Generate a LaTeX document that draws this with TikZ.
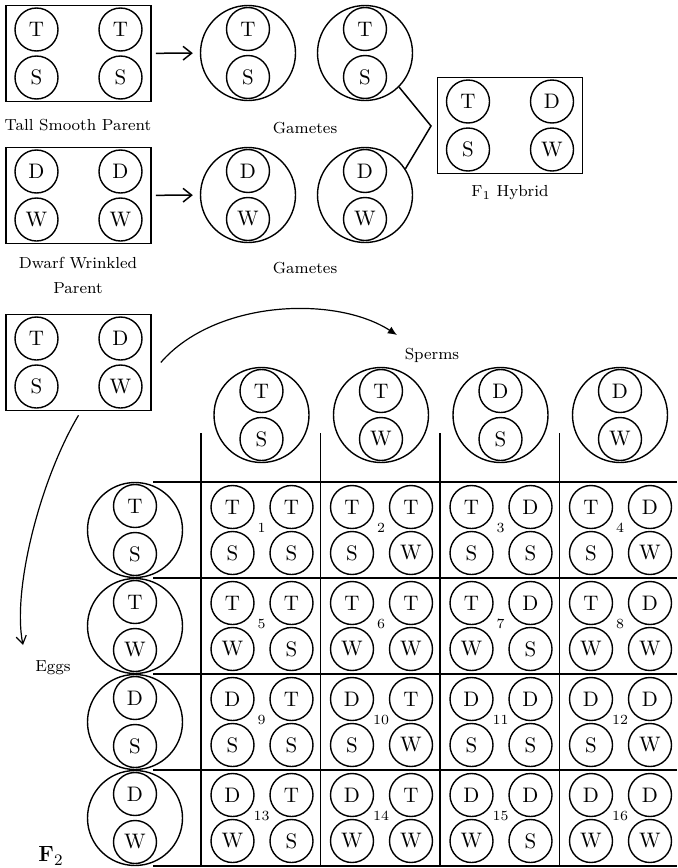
\documentclass[tikz,border=0pt]{standalone}
\usepackage{tikz}
\usetikzlibrary{arrows.meta,calc}
\tikzset{
  gene/.style={circle,draw=black,line width=0.7pt,minimum size=21.5pt,inner sep=0pt,font=\fontsize{10.5}{12}\selectfont}, % one factor
  gam/.style={circle,draw=black,line width=0.7pt,minimum size=47.5pt,inner sep=0pt},  % gamete
  pbox/.style={draw=black,line width=0.8pt,minimum width=72.5pt,minimum height=48pt,inner sep=0pt},
  lbl/.style={font=\footnotesize,inner sep=0pt},
  num/.style={font=\scriptsize,inner sep=0pt},
  pline/.style={black,line width=0.8pt},
  pass/.style={-{Straight Barb[length=1.5mm,width=2.4mm]},line width=0.75pt},
  sperm/.style={-{Latex[length=1.6mm,width=1.4mm]},line width=0.6pt},
  egg/.style={-{Straight Barb[length=1.4mm,width=1.8mm]},line width=0.6pt},
}
\newcommand{\gamete}[5]{% name, x, y, upper, lower
  \node[gam] (#1) at ({#2},{#3}) {};
  \node[gene] (#1u) at ({#2},{#3-24}) {#4};
  \node[gene] (#1l) at ({#2},{#3+24}) {#5};
}
\newcommand{\pairbox}[7]{% name, x, y, four factors
  \node[pbox] (#1) at ({#2},{#3}) {};
  \node[gene] (#1a) at ({#2-42},{#3-24}) {#4};
  \node[gene] (#1b) at ({#2+42},{#3-24}) {#5};
  \node[gene] (#1c) at ({#2-42},{#3+24}) {#6};
  \node[gene] (#1d) at ({#2+42},{#3+24}) {#7};
}
\newcommand{\cellgenes}[8]{% name, x, y, four factors, number
  \node[gene] (#1a) at ({#2-29},{#3-23}) {#4};
  \node[gene] (#1b) at ({#2+30},{#3-23}) {#5};
  \node[gene] (#1c) at ({#2-29},{#3+23}) {#6};
  \node[gene] (#1d) at ({#2+30},{#3+23}) {#7};
  \node[num] (#1n) at ({#2},{#3-2}) {#8};
}

\begin{document}
\begin{tikzpicture}[x=0.5pt,y=-0.5pt]
  \useasboundingbox (0,0) rectangle (677,868);
  % parents and gametes
  \pairbox{tsp}{78.5}{53.5}{T}{T}{S}{S}
  \node[lbl] (tspl) at (78,125) {Tall Smooth Parent};
  \gamete{g1}{248}{53}{T}{S}
  \gamete{g2}{365}{53}{T}{S}
  \node[lbl] (gl1) at (305,128) {Gametes};
  \pairbox{dwp}{78.5}{195.5}{D}{D}{W}{W}
  \node[lbl,align=center,font=\fontsize{8}{12.5}\selectfont] (dwpl) at (78,275) {Dwarf Wrinkled\\Parent};
  \gamete{g3}{248}{195}{D}{W}
  \gamete{g4}{365}{195}{D}{W}
  \node[lbl] (gl2) at (305,268) {Gametes};
  \draw[pass,shorten <=2pt,shorten >=3.5pt] (tsp) -- (g1);
  \draw[pass,shorten <=2pt,shorten >=3.5pt] (dwp) -- (g3);
  % F1
  \pairbox{f1}{510}{125.5}{T}{D}{S}{W}
  \node[lbl] (f1l) at (510,193) {F$_1$ Hybrid};
  \coordinate (join) at (431,126);
  \draw[line width=0.75pt] (g2.-45) -- (join) -- (g4.33);
  % F2
  \pairbox{hy}{78.5}{362.5}{T}{D}{S}{W}
  \coordinate (sptip) at (397,335);
  \coordinate (eggtip) at (23,645);
  \draw[sperm] ([xshift=4.5pt]hy.east) .. controls (215,300) and (335,295) .. (sptip);
  \draw[egg] ([yshift=-2pt]hy.south) .. controls (40,480) and (12,590) .. (eggtip);
  \node[lbl] (spl) at (432,355) {Sperms};
  \node[lbl] (eggl) at (53,668) {Eggs};
  \node[inner sep=0pt,font=\fontsize{11}{13}\selectfont] (f2l) at (51,856) {\textbf{F}$_2$};
  \foreach \su/\sl [count=\cc] in {T/S,T/W,D/S,D/W} {
    \pgfmathsetmacro\px{261.5+119.5*(\cc-1)}
    \gamete{s\cc}{\px}{415}{\su}{\sl}
  }
  \foreach \eu/\el [count=\rr] in {T/S,T/W,D/S,D/W} {
    \pgfmathsetmacro\py{530+96*(\rr-1)}
    \gamete{e\rr}{135}{\py}{\eu}{\el}
  }
  \foreach \cc in {0,...,3}
    \draw[pline] ({201+119.5*\cc},433) -- ({201+119.5*\cc},867);
  \foreach \k in {0,...,4}
    \draw[pline] (153,{482+96*\k}) -- (677,{482+96*\k});
  \foreach \eu/\el [count=\rr] in {T/S,T/W,D/S,D/W}
    \foreach \su/\sl [count=\cc] in {T/S,T/W,D/S,D/W} {
      \pgfmathtruncatemacro\n{4*(\rr-1)+\cc}
      \pgfmathsetmacro\px{261.5+119.5*(\cc-1)}
      \pgfmathsetmacro\py{530+96*(\rr-1)}
      \cellgenes{c\n}{\px}{\py}{\eu}{\su}{\el}{\sl}{\n}
    }
\end{tikzpicture}
\end{document}
